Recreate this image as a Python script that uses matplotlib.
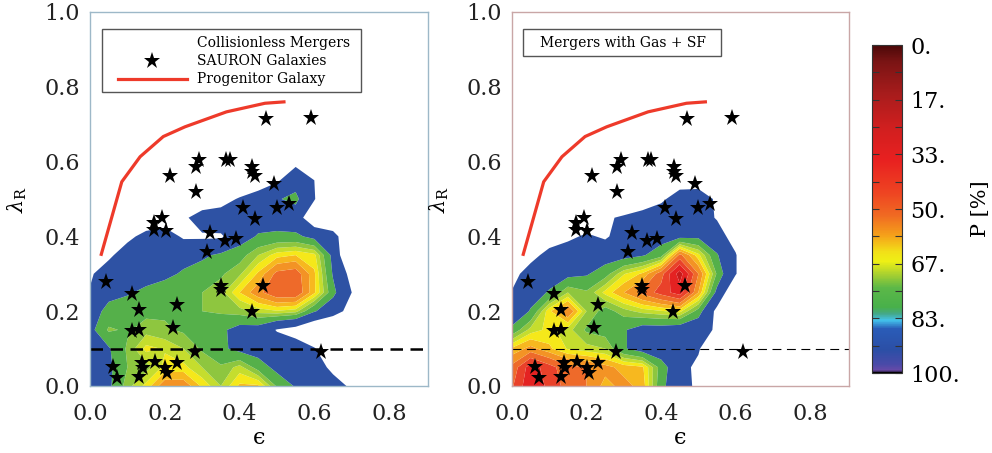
import numpy as np
import matplotlib
matplotlib.use("Agg")
import matplotlib.pyplot as plt
from matplotlib.colors import LinearSegmentedColormap, Normalize
from matplotlib.cm import ScalarMappable
from matplotlib.patches import Rectangle

plt.rcParams['font.family'] = ['DejaVu Serif']
plt.rcParams['mathtext.fontset'] = 'dejavuserif'

# ---------------- data ----------------
EPS_GRID = [0.0, 0.05, 0.10, 0.15, 0.20, 0.25, 0.30, 0.35, 0.40, 0.45, 0.50, 0.55, 0.60, 0.65, 0.70, 0.75]
LAM_GRID = [0.0, 0.05, 0.10, 0.15, 0.20, 0.25, 0.30, 0.35, 0.40, 0.45, 0.50, 0.55, 0.60]

# probability P [%] (values >100 : no remnant, left blank); rows follow LAM_GRID
P_COLLISIONLESS = [
    [94, 87, 74, 66, 54, 54, 64, 72, 62, 62, 78, 86, 91, 95, 102, 120],
    [92, 87, 77, 74, 66, 66, 72, 76, 70, 80, 88, 90, 94, 103, 120, 120],
    [92, 86, 76, 66, 68, 72, 78, 83, 88, 90, 91, 93, 99, 112, 120, 120],
    [88, 76, 78, 74, 76, 78, 80, 83, 89, 90, 101, 106, 115, 120, 120, 120],
    [90, 82, 80, 79, 78, 78, 77, 76, 74, 70, 68, 70, 84, 93, 106, 120],
    [99, 88, 86, 83, 81, 79, 77, 74, 63, 54, 46, 46, 62, 82, 100, 120],
    [102, 92, 91, 89, 87, 84, 80, 78, 73, 62, 50, 48, 62, 86, 105, 120],
    [120, 103, 92, 90, 89, 88, 87, 83, 80, 72, 65, 63, 66, 88, 120, 120],
    [120, 112, 104, 95, 93, 102, 102, 102, 90, 84, 83, 83, 88, 92, 120, 120],
    [120, 120, 118, 112, 108, 103, 92, 90, 90, 90, 90, 92, 112, 120, 120, 120],
    [120, 120, 120, 120, 120, 120, 112, 108, 98, 92, 86, 82, 99, 120, 120, 120],
    [120, 120, 120, 120, 120, 120, 120, 120, 120, 110, 102, 90, 100, 120, 120, 120],
    [120, 120, 120, 120, 120, 120, 120, 120, 120, 120, 120, 104, 120, 120, 120, 120],
]

P_GAS_SF = [
    [46, 32, 40, 48, 52, 60, 56, 60, 82, 94, 103, 120, 120, 120, 120, 120],
    [50, 34, 42, 50, 52, 56, 60, 62, 80, 94, 104, 120, 120, 120, 120, 120],
    [62, 56, 62, 68, 70, 72, 84, 90, 92, 94, 98, 120, 120, 120, 120, 120],
    [82, 70, 66, 70, 78, 80, 84, 90, 90, 92, 94, 102, 120, 120, 120, 120],
    [95, 84, 64, 52, 72, 80, 74, 70, 68, 66, 80, 104, 120, 120, 120, 120],
    [99, 90, 84, 72, 76, 66, 58, 50, 42, 34, 58, 88, 115, 120, 120, 120],
    [106, 92, 90, 88, 86, 80, 68, 62, 48, 26, 52, 78, 99, 120, 120, 120],
    [120, 106, 94, 92, 91, 90, 89, 86, 80, 50, 66, 84, 99, 120, 120, 120],
    [120, 116, 110, 103, 98, 102, 93, 91, 89, 88, 87, 94, 106, 120, 120, 120],
    [120, 120, 120, 120, 110, 103, 97, 92, 90, 88, 94, 101, 120, 120, 120, 120],
    [120, 120, 120, 120, 120, 120, 120, 112, 103, 92, 93, 102, 120, 120, 120, 120],
    [120, 120, 120, 120, 120, 120, 120, 120, 120, 108, 106, 120, 120, 120, 120, 120],
    [120] * 16,
]

SAURON_EPS = [0.043, 0.061, 0.072, 0.113, 0.132, 0.113, 0.132, 0.139, 0.142, 0.131,
              0.174, 0.200, 0.206, 0.232, 0.221, 0.232, 0.280, 0.350, 0.350, 0.463,
              0.432, 0.312, 0.321, 0.362, 0.390, 0.410, 0.441, 0.499, 0.532, 0.492,
              0.434, 0.434, 0.441, 0.365, 0.374, 0.292, 0.283, 0.283, 0.214, 0.171,
              0.192, 0.171, 0.202, 0.470, 0.591, 0.619]
SAURON_LAM = [0.279, 0.051, 0.021, 0.246, 0.203, 0.148, 0.150, 0.061, 0.048, 0.024,
              0.064, 0.048, 0.035, 0.061, 0.156, 0.217, 0.090, 0.267, 0.257, 0.268,
              0.197, 0.357, 0.408, 0.388, 0.392, 0.475, 0.446, 0.475, 0.486, 0.539,
              0.586, 0.571, 0.561, 0.603, 0.603, 0.603, 0.586, 0.518, 0.562, 0.437,
              0.450, 0.417, 0.414, 0.713, 0.717, 0.092]

PROG_EPS = [0.029, 0.085, 0.134, 0.196, 0.254, 0.365, 0.468, 0.523]
PROG_LAM = [0.348, 0.546, 0.613, 0.667, 0.693, 0.733, 0.756, 0.760]

LAMBDA_CUT = 0.1

XTICKS = [0.0, 0.2, 0.4, 0.6, 0.8]
YTICKS = [0.0, 0.2, 0.4, 0.6, 0.8, 1.0]
CBAR_TICKS = [0, 100 / 6, 200 / 6, 50, 400 / 6, 500 / 6, 100]
CBAR_LABELS = ['0.', '17.', '33.', '50.', '67.', '83.', '100.']

# ---------------- style ----------------
LEVELS = [0, 10, 20, 30, 38, 45, 52, 58, 63, 67.5, 72, 77, 85, 100]
BAND_COLORS = ['#5c0c0c', '#a31515', '#c81b1b', '#e42222', '#e9412a', '#ee6a2a',
               '#f39325', '#f7b81f', '#f5e81a', '#c5dd2e', '#8ec63f', '#55b04a',
               '#2e52a4']

cb_stops = [(0.00, '#4a0808'), (0.05, '#7a1414'), (0.15, '#a81c1c'), (0.25, '#d01f1f'),
            (0.35, '#e82020'), (0.45, '#ee4422'), (0.52, '#f06a22'), (0.58, '#f5a01a'),
            (0.63, '#f2df18'), (0.66, '#eef015'), (0.70, '#a8d030'), (0.74, '#5cb848'),
            (0.80, '#48b04a'), (0.82, '#44a888'), (0.84, '#44c4ec'), (0.865, '#2a5cb8'),
            (0.93, '#2b4fa6'), (0.975, '#4a4aa8'), (0.993, '#6a4aa8'), (1.0, '#000000')]
CMAP = LinearSegmentedColormap.from_list('pcmap', cb_stops, N=512)

W, H = 992, 453
fig = plt.figure(figsize=(W / 100, H / 100), dpi=100)
ax1 = fig.add_axes([90 / W, 67 / H, 338 / W, 374 / H])
ax2 = fig.add_axes([512 / W, 67 / H, 337 / W, 374 / H])
cax = fig.add_axes([872 / W, 80 / H, 30 / W, 328 / H])

E, L = np.meshgrid(EPS_GRID, LAM_GRID)


def draw_panel(ax, P, spine_color, dash_lw, dashes):
    ax.contourf(E, L, np.array(P, dtype=float), levels=LEVELS, colors=BAND_COLORS,
                antialiased=True)
    ax.plot(PROG_EPS, PROG_LAM, color='#ee3a2a', lw=2.3, solid_capstyle='butt')
    ax.axhline(LAMBDA_CUT, color='black', lw=dash_lw, dashes=dashes)
    ax.plot(SAURON_EPS, SAURON_LAM, ls='none', marker='*', ms=12.5, color='black',
            markeredgewidth=0)
    ax.set_xlim(0, 0.904)
    ax.set_ylim(0, 1.0)
    ax.set_xticks(XTICKS)
    ax.set_xticklabels(['%.1f' % v for v in XTICKS])
    ax.set_yticks(YTICKS)
    ax.set_yticklabels(['%.1f' % v for v in YTICKS])
    ax.tick_params(length=0, labelsize=16, colors='#222222')
    ax.tick_params(axis='x', pad=12)
    ax.tick_params(axis='y', pad=7)
    for s in ax.spines.values():
        s.set_color(spine_color)
        s.set_linewidth(1.0)
    ax.set_xlabel('\u03f5', fontsize=16, labelpad=2)
    ax.set_ylabel(r'$\lambda_{\rm R}$', fontsize=15, labelpad=11)


draw_panel(ax1, P_COLLISIONLESS, '#9db8c8', 1.8, (5, 3))
draw_panel(ax2, P_GAS_SF, '#c9a6a6', 0.8, (8, 5))

# legend panel 1
ax1.add_patch(Rectangle((0.0355, 0.786), 0.7665, 0.1685, transform=ax1.transAxes,
                        fill=True, facecolor='white', edgecolor='#555555', lw=1.0, zorder=5))
ax1.text(0.317, 0.917, 'Collisionless Mergers', transform=ax1.transAxes, fontsize=10,
         va='center', ha='left', zorder=6)
ax1.text(0.317, 0.869, 'SAURON Galaxies', transform=ax1.transAxes, fontsize=10,
         va='center', ha='left', zorder=6)
ax1.text(0.317, 0.821, 'Progenitor Galaxy', transform=ax1.transAxes, fontsize=10,
         va='center', ha='left', zorder=6)
ax1.plot([0.183], [0.869], transform=ax1.transAxes, marker='*', ms=12.5, color='black',
         markeredgewidth=0, zorder=6)
ax1.plot([0.083, 0.287], [0.821, 0.821], transform=ax1.transAxes, color='#ee3a2a',
         lw=2.3, zorder=6)

# legend panel 2
ax2.add_patch(Rectangle((0.0326, 0.882), 0.5874, 0.0725, transform=ax2.transAxes,
                        fill=True, facecolor='white', edgecolor='#555555', lw=1.0, zorder=5))
ax2.text(0.083, 0.917, 'Mergers with Gas + SF', transform=ax2.transAxes, fontsize=10,
         va='center', ha='left', zorder=6)

# colorbar
sm = ScalarMappable(norm=Normalize(0, 100), cmap=CMAP)
cb = fig.colorbar(sm, cax=cax)
cax.invert_yaxis()
cb.set_ticks(CBAR_TICKS)
cb.set_ticklabels(CBAR_LABELS)
cax.yaxis.set_ticks(np.arange(0, 100.1, 100 / 12), minor=True)
cax.tick_params(which='both', direction='in', left=True, right=True, length=5,
                width=0.8, color='#333333', labelsize=16, pad=6)
cb.outline.set_edgecolor('#333333')
cb.outline.set_linewidth(0.8)
cb.set_label('P [%]', fontsize=15, labelpad=8)

fig.savefig('out.png', dpi=100)
